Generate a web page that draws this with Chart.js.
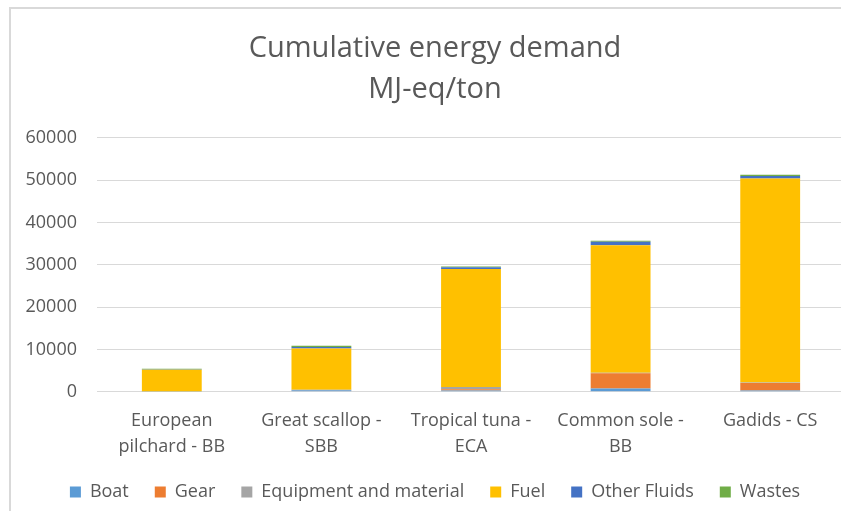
<!DOCTYPE html>
<html>
<head>
<meta charset="utf-8">
<script src="https://cdn.jsdelivr.net/npm/chart.js@4"></script>
<style>
  html, body { margin: 0; padding: 0; background: #fff; overflow: hidden; width: 841px; height: 511px; }
  #marco { position: absolute; left: 9px; top: 7px; width: 860px; height: 520px; border-left: 2px solid #d9d9d9; border-top: 2px solid #d9d9d9; }
  #caja { position: absolute; left: 11px; top: 9px; width: 844px; height: 502px; }
</style>
</head>
<body>
<div id="marco"></div>
<div id="caja"><canvas id="energiaChart"></canvas></div>
<script>
const categorias = [['European', 'pilchard - BB'], ['Great scallop -', 'SBB'], ['Tropical tuna -', 'ECA'], ['Common sole -', 'BB'], 'Gadids - CS'];
const boat = [50, 350, 300, 800, 300];
const gear = [0, 50, 300, 3600, 1800];
const equipo = [50, 100, 550, 100, 100];
const fuel = [5100, 9750, 27830, 30100, 48200];
const otrosFluidos = [50, 350, 450, 850, 600];
const wastes = [200, 250, 170, 200, 250];
const ticksY = [0, 10000, 20000, 30000, 40000, 50000, 60000];

const fuente = "'Open Sans', sans-serif";
const gris = '#595959';

const energiaCtx = document.getElementById('energiaChart').getContext('2d');
const energiaChart = new Chart(energiaCtx, {
    type: 'bar',
    data: {
        labels: categorias,
        datasets: [
            { label: 'Boat', data: boat, backgroundColor: '#5B9BD5' },
            { label: 'Gear', data: gear, backgroundColor: '#ED7D31' },
            { label: 'Equipment and material', data: equipo, backgroundColor: '#A5A5A5' },
            { label: 'Fuel', data: fuel, backgroundColor: '#FFC000' },
            { label: 'Other Fluids', data: otrosFluidos, backgroundColor: '#4472C4' },
            { label: 'Wastes', data: wastes, backgroundColor: '#70AD47' }
        ]
    },
    options: {
        responsive: true,
        maintainAspectRatio: false,
        animation: false,
        datasets: { bar: { barPercentage: 1, categoryPercentage: 0.4 } },
        layout: { padding: { left: 14, right: 10, top: 19, bottom: 0 } },
        plugins: {
            title: {
                display: true,
                text: ['Cumulative energy demand', 'MJ-eq/ton'],
                color: gris,
                font: { family: fuente, size: 29, weight: 'normal', lineHeight: 1.41 },
                padding: { top: 0, bottom: 28 }
            },
            legend: {
                position: 'bottom',
                labels: {
                    color: gris,
                    font: { family: fuente, size: 18 },
                    boxWidth: 11,
                    boxHeight: 11,
                    padding: 26
                }
            },
            tooltip: { enabled: false }
        },
        scales: {
            x: {
                stacked: true,
                grid: { display: false },
                border: { color: '#d9d9d9', width: 1 },
                ticks: { color: gris, font: { family: fuente, size: 18, lineHeight: 1.45 }, maxRotation: 0, autoSkip: false, padding: 8 },
                afterFit: (eje) => { eje.height -= 11; }
            },
            y: {
                stacked: true,
                min: 0,
                max: 60000,
                afterBuildTicks: (eje) => { eje.ticks = ticksY.map(v => ({ value: v })); },
                grid: { color: '#d9d9d9', lineWidth: 1, drawTicks: false },
                border: { display: false },
                ticks: { color: gris, font: { family: fuente, size: 18 }, padding: 20, callback: (v) => String(v) },
                afterFit: (eje) => { eje.width = 72; }
            }
        }
    }
});
</script>
</body>
</html>
